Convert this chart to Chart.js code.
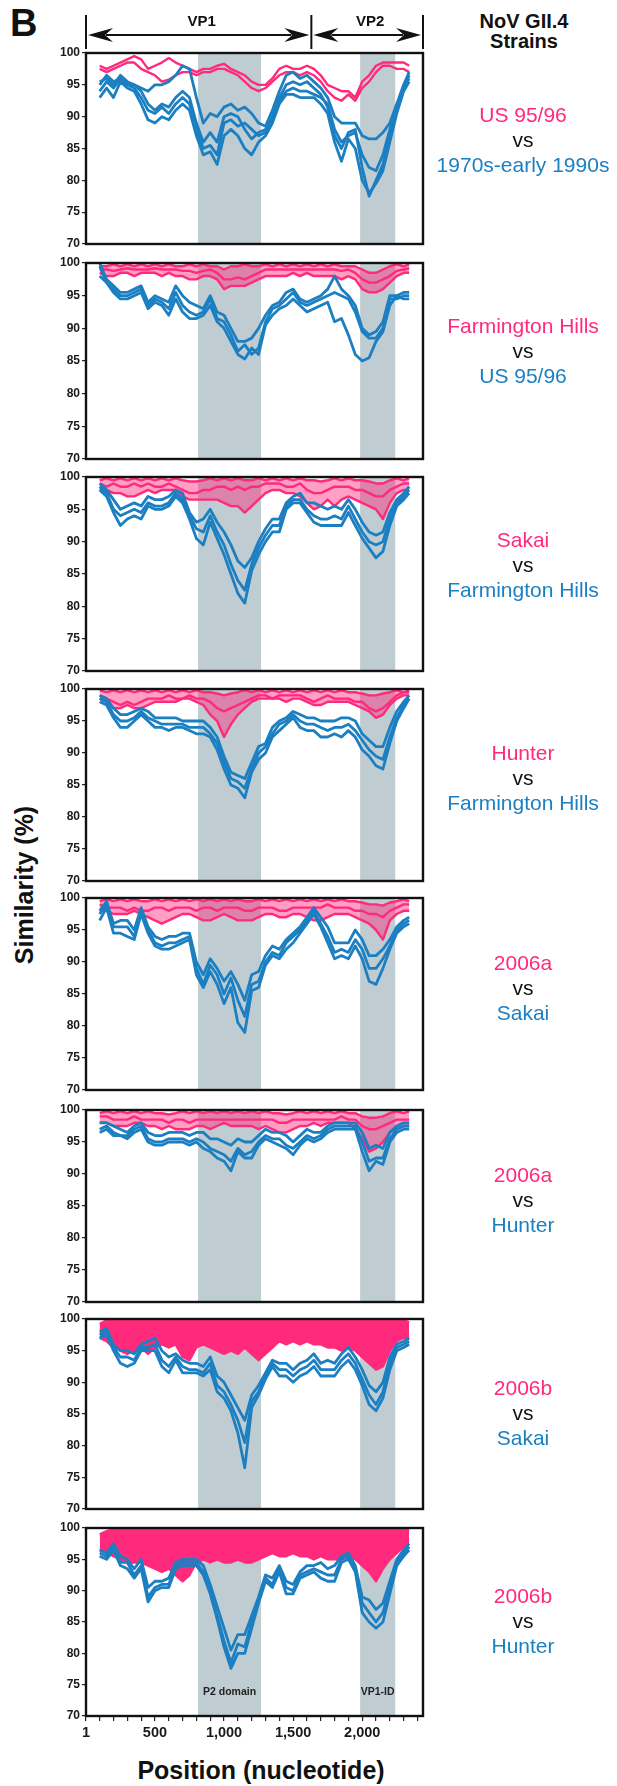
<!DOCTYPE html>
<html><head><meta charset="utf-8">
<script src="https://cdn.jsdelivr.net/npm/chart.js@4.4.1/dist/chart.umd.min.js"></script>
<style>
body{margin:0;background:#fff;width:617px;height:1786px;position:relative;overflow:hidden;font-family:"Liberation Sans",Arial,sans-serif;color:#111;}
canvas{position:absolute;left:0;}
.lab{position:absolute;left:423px;width:200px;text-align:center;font-size:21px;line-height:25px;white-space:nowrap;}
.pk{color:#ff2a7c;} .bl{color:#1b7fc2;} .vs{color:#111;}
</style></head>
<body>
<div style="position:absolute;left:10px;top:3px;font-weight:bold;font-size:38px;line-height:40px;">B</div>
<div style="position:absolute;left:444px;width:160px;top:11px;text-align:center;font-weight:bold;font-size:20px;line-height:20px;">NoV GII.4<br>Strains</div>
<div style="position:absolute;left:24px;top:885px;transform:translate(-50%,-50%) rotate(-90deg);font-weight:bold;font-size:25px;white-space:nowrap;">Similarity (%)</div>
<div style="position:absolute;left:111px;width:300px;top:1755px;text-align:center;font-weight:bold;font-size:25px;line-height:30px;white-space:nowrap;">Position (nucleotide)</div>
<script>
// ---------- data ----------
const positions = [100,150,200,250,300,350,400,450,500,550,600,650,700,750,800,850,900,950,1000,1050,1100,1150,1200,1250,1300,1350,1400,1450,1500,1550,1600,1650,1700,1750,1800,1850,1900,1950,2000,2050,2100,2150,2200,2250,2300,2340];
const yTicks = [70,75,80,85,90,95,100];
const xTicks = [1,100,200,300,400,500,600,700,800,900,1000,1100,1200,1300,1400,1500,1600,1700,1800,1900,2000,2100,2200,2300,2400];
const xLabelled = [1,500,1000,1500,2000];
const shadeP2 = [812,1268];
const shadeID = [1985,2239];
const shadeNames = ['P2 domain','VP1-ID'];
const vpBounds = [1,1632,2440];
const vpLabels = ['VP1','VP2'];
const pinkNames = ['US 95/96','Farmington Hills','Sakai','Hunter','2006a','2006a','2006b','2006b'];
const blueNames = ['1970s-early 1990s','US 95/96','Farmington Hills','Farmington Hills','Sakai','Hunter','Sakai','Hunter'];

const p1PinkA = [98,97.5,98,98.5,99,99.5,99,97.5,98,98.5,99.2,98.5,98,97.5,97,97.5,97.5,98,98.3,97.5,97,96.5,95.5,95,95,96,97.5,98,97.5,97.5,98,97.5,96.5,95,94.5,94,94,93,95.5,96.5,98,98.5,98.5,98.5,98.5,98];
const p1PinkB = [97.5,97,97.5,98,98.5,98.5,97.5,97,96.5,95.5,95.8,96.5,97,97,96.5,97,97,97.5,97.5,97,96.5,95.5,94.5,94,94.5,95.5,96.5,97,97,96.5,97,96.5,95.5,94,93,92.5,93.5,92.5,94.5,95.5,97,98,98,97.5,97.5,97];
const p1BlueA = [95.5,96,95,96.5,95.5,95,94.5,94,95,95,95.5,96.5,98,97.5,93,89,90.5,90,91.5,92,91,91.5,90.5,89,88.5,91,94,96.5,97,96,96.5,95.5,94.5,93,90,89,89,89,87,86.5,86.5,87.5,89,92,95,97];
const p1BlueB = [94,95.5,94.5,96,95,94.5,93,91,90.5,91.5,90.5,92,93,92,88,85,85.5,84,89,89.5,88.5,89,88,87,87.5,89.5,92.5,94,94.5,94,94,93.5,93,92,88,86,87,87.5,84,82,81.5,84,88,91.5,94.5,96];
const p1BlueC = [93,94.5,93,95.5,94.5,94,92,89.5,89,90,89.5,91,92,91,87,84,84.5,82.5,87,88,87,85,84,86,87,89,92,93.5,93.5,93,93,93,92,90.5,86,83,86.5,85,80,78,79.5,81.5,86,90.5,94,95.5];
const p1BlueD = [95,96.5,95.5,96,95,95,94,92,91,92,91.5,93,94,93,89,86,87.5,86,90,90.5,90,88,86.5,87.5,88,90,93,95,95.5,95,95.5,94.5,93.5,91.5,87,85,87.5,88,82,77.5,80,82.5,87,91,94.5,96.5];

const p2PinkA = [99.5,99.5,99.8,99.5,99.8,99.5,99.8,99.5,99.8,99.5,99.8,99.5,99.5,99.8,99.5,99.8,99.5,99.5,99,99.5,99.5,99.8,99.5,99.5,99.8,99.5,99.8,99.5,99.8,99.5,99.8,99.5,99.8,99.5,99.8,99.5,99.5,99.5,99,98.5,98.5,99,99.5,99.8,99.5,99.8];
const p2PinkB = [98.5,98,98,98.5,98.5,98,98.5,98.5,98.5,98,98.5,98,98,97.5,97.5,98,98,97.5,96,96.5,96.5,96.5,97,97.5,98,98,98,98,98.5,98,98.5,98,98,98,98,97.5,98,97.5,96,95.5,95.5,96,97,98,98.5,98.5];
const p2PinkC = [99,99,98.8,99,99.2,99,99,99,99.2,99,99,99,98.8,98.8,98.5,98.8,99,98.5,97.5,97.5,97.8,97.5,98,98.5,99,99,99,99,99,99,99,99,99,99,99,98.8,99,98.5,97.5,97,97,97.5,98,98.8,99,99.2];
const p2BlueA = [100,97.5,96.5,95.5,95.5,96,96.5,94,95,94.5,94,96.5,95,94,93.5,93,95,92.5,92,90,88,88,88.5,90,92,93.5,94,95.5,96,94.5,94,94.5,95,96,98,96,95,93.5,90,89,89.5,91,95,95,95.5,95.5];
const p2BlueB = [99.5,97,96,95,95,95.5,96,93.5,94.5,94,93,95.5,93.5,92.5,92,92.5,94.5,91.5,91,89,86.5,87.5,86,87,91,93,93.5,94.5,95.5,94,93.5,94,94.5,95,95.5,95,94.5,92.5,89.5,88.5,88.5,90,94.5,94.5,95,95];
const p2BlueC = [98,97,95.5,94.5,94.5,95,95.5,93,94,93.5,92,94.5,92.5,91.5,91.5,92,93.5,91,90,88,86,85.3,87,86,90.5,92,93,93.5,94.5,93.5,92.5,93,93.5,94,91,91.5,89,86,85,85.5,88,89.5,93.5,95,94.5,94.5];

const p3PinkA = [99.5,99.8,99.5,99.8,99.5,99.8,99.5,99.8,99.5,99.8,99.5,99.8,99.5,99.3,99.3,99.5,99.8,99.5,99.8,99.5,99.8,99.5,99.5,99.8,99.5,99.8,99.5,99.8,99.5,99.8,99.5,99.5,99.3,99.5,99.8,99.5,99.8,99.5,99.5,99.3,99,99,99.5,99.8,99.5,99.8];
const p3PinkB = [99,98.5,99,98.5,98.5,99,98.5,99,98.5,98.5,99,98.5,98,97.5,97.5,98,98,98.5,98.5,98,98.5,98,98.5,98.5,99,99,99,98.5,98.5,99,98,97.5,97.5,98,98.5,98.5,98.5,98,98,97.5,97,97,98,98.5,99,99];
const p3PinkC = [98,98,97.5,97.5,97,97,97.5,98,97.5,98,98,98,97,96.5,96.5,96.5,96.5,96.5,96,95.5,95.5,94.5,95.5,96.5,97.5,98,98,97.5,97.5,97,96,95,95.5,96.5,95.5,96.5,97,96.5,96,95.5,95,93.5,96,97.5,98,98];
const p3BlueA = [99,98,96.5,95,95.5,96,95.5,97,96.5,96.5,97,98,97.5,94.5,93,93.5,95,93,91.5,89.5,87,86,87.5,90,92,93.5,93.5,96,97,97.5,96,96,95.5,95,95.5,95,96.5,95,93,91.5,91,91.5,94.5,96.5,97.5,98.5];
const p3BlueB = [98.5,97.5,95,94,94.5,95,94.5,96,95.5,95.5,96,97.5,96.5,94,92,91.5,94,91.5,89.5,86.5,84,82.5,86.5,89,91,92.5,92.5,95.5,96.5,96.5,95,94,93.5,93.5,94,93.5,95.5,93.5,91.5,90,89.5,90,93.5,96,97,98];
const p3BlueC = [98,97,94.5,92.5,93.5,94,93.5,95.5,95,95,95.5,97,96,93.5,90.5,89.5,93,90.5,88,85,82,80.5,85.5,88,90,91.5,91.5,95,96,96,94.5,93,92.5,92.5,92.5,92.5,94.5,92.5,90.5,89,87.5,88.5,92.5,95.5,96.5,97.5];

const p4PinkA = [99.8,99.5,99.8,99.5,99.8,99.5,99.8,99.5,99.8,99.5,99.8,99.5,99.8,99.5,99.8,99.5,99.5,99.3,99,99.3,99.5,99.8,99.5,99.8,99.5,99.8,99.5,99.8,99.5,99.8,99.5,99.8,99.5,99.8,99.5,99.8,99.5,99.5,99.3,99,99,99.3,99.5,99.8,99.5,99.8];
const p4PinkB = [99,98.5,98,97.5,98,97.5,98,98.5,98.5,98.5,99,98.5,98.5,99,98.5,98.5,98,97,96.5,97,97.5,98,98.5,99,99,98.5,99,99,99,99,98.5,98,98.5,99,98.5,98.5,98.5,98,98,97,96.5,97,98,99,99.5,99.5];
const p4PinkC = [98.5,98,97,97,97.5,97,97,97.5,98,98,98,98,98.5,98.5,98,97.5,96,95,92.5,94.5,96,97,98,98.5,98.5,98.5,98.5,98,98.5,98.5,98,97.5,97.5,98,98,98,98,97.5,97,96.5,95.5,96,97.5,98.5,99,99];
const p4BlueA = [99,98.5,97,96,96,96.5,97,96.5,95.5,95.5,95.5,95.5,95,95,95,95,94,92.5,89.5,87,86.5,86,88.5,91,91.5,94,95,95.5,96.5,96,95.5,95.5,95,95,95,95.5,95.5,95,93,92,91,91,94,96.5,98,99];
const p4BlueB = [98.5,98,96,95,95,95.5,96.5,95.5,95,94.5,94.5,94.5,94.5,94,94,94,93,91.5,88.5,86,85.5,84.5,87.5,90,91,93,94.5,95,96,95,94.5,94.5,94,93.5,94,94,94.5,93.5,92,90.5,89.5,89,92.5,95.5,97.5,98.5];
const p4BlueC = [98,97.5,95.5,94,94,95,96,95,94,94,93.5,94,94,93.5,93,93,92.5,90.5,87.5,85,84.5,83,87,89,90,92.5,93.5,94.5,95.5,94,93.5,93.5,92.5,92.5,93,92.5,93.5,92.5,90.5,89.5,88,87.5,91.5,95,97,98.5];

const p5PinkA = [99.5,99.8,99.5,99.8,99.5,99.8,99.5,99.5,99.8,99.5,99.8,99.5,99.8,99.5,99.8,99.5,99.8,99.5,99.8,99.5,99.8,99.5,99.5,99.8,99.5,99.8,99.5,99.8,99.5,99.8,99.5,99.8,99.5,99.8,99.5,99.8,99.5,99.5,99.3,99,99,98.8,99.3,99.5,99.8,99.5];
const p5PinkB = [99,98.5,98.5,98.5,98,98.5,98,98,98.5,98.5,98,98.5,98.5,98.5,98,98.5,98.5,98,98.5,98.5,98.5,98,98,98.5,98.5,98.5,98,98,98.5,98.5,98.5,98.5,98.5,99,98.5,98.5,98.5,98,98,97.5,97.5,97,98,98.5,99,99];
const p5PinkC = [98,98,97.5,97.5,97.5,98,97.5,97,96.5,96,96.5,97,97.5,97.5,97,96.5,96.5,97,97.5,97,96.5,96.5,96.5,97,97.5,97.5,97,97,97.5,97.5,97,96.5,96.5,97,97.5,97.5,97.5,97,96.5,96,95,93.5,96.5,97.5,98,98];
const p5BlueA = [98,99.5,96,96.5,96.5,95,98.5,95.5,94,93.5,94,94,94.5,94.5,90,88,90.5,89,87,88.5,86.5,84,88,88.5,91,92.5,92,93.5,94.5,95.5,97,98.5,97,95.5,93,93,93,95,93.5,91,91,92,93.5,95.5,96.5,97];
const p5BlueB = [97.5,99,95.5,95.5,95.5,94,98,95,93,92.5,93,93,93.5,94,89,86.5,89.5,88,85,87.5,84,81.5,86.5,87,90,91.5,91,93,94,95,96.5,98,96,94,91.5,92,91.5,93.5,92,89,89,90.5,92.5,95,96,96.5];
const p5BlueC = [96.5,98.5,94.5,94.5,94,93.5,97.5,94.5,92.5,92,92,92.5,93,93.5,88,86,88.5,86.5,83.5,86,80.5,79,85.5,86,89.5,91,90.5,92,93,94.5,96,97.5,95.5,93,90.5,91,90.5,92.5,90.5,87,86.5,89,92,94.5,95.5,96];

const p6PinkA = [99.5,99.8,99.5,99.8,99.5,99.8,99.5,99.8,99.5,99.5,99.3,99.5,99.8,99.5,99.8,99.5,99.8,99.5,99.8,99.5,99.8,99.5,99.8,99.5,99.8,99.5,99.5,99.3,99.5,99.8,99.5,99.8,99.5,99.8,99.5,99.8,99.5,99.5,99,98.8,98.8,99,99.5,99.8,99.5,99.8];
const p6PinkB = [99,99,98.5,98.5,98.5,99,98.5,98.5,98.5,98.5,98,98.5,98.5,98,98.5,98.5,98.5,98.5,98.5,98.5,98.5,98.5,98.5,98.5,98.5,98.5,98,98,98.5,98.5,98.5,98.5,98.5,98.5,98.5,99,98.5,98.5,97.5,97,97,97.5,98,98.5,98.5,98.5];
const p6PinkC = [98,98,97.5,97.5,97.5,98,98,97.5,97.5,97,97.5,97,97,97,97.5,97.5,97,97.5,98,97.5,97.5,97.5,97.5,97,97.5,97,96.5,96.5,97,97.5,97.5,98,97.5,98,98,98,98,97,95.5,93.5,94,95,96.5,97,97.5,97.5];
const p6BlueA = [98,98,97.5,97,96.5,97.5,98,96.5,96,96,96.5,96.5,96.5,96,96.5,96.5,95.5,95.5,95,94.5,95.5,95,95,96,97,96.5,96.5,96,95,96,97,96.5,96.5,97.5,98,98,98,98,96.5,94,94.5,94,96.5,97.5,98,98];
const p6BlueB = [97,97.5,96.5,96,96,97,97.5,95.5,95,95,95.5,95.5,95.5,95,95.5,95,94,93.5,93,92,94,93,93.5,95,96,95.5,95.5,94.5,94,95,96,95.5,96,97,97.5,97.5,97.5,97.5,95,92,92.5,92.5,95.5,97,97.5,97.5];
const p6BlueC = [96.5,97,96,96,95.5,96.5,97,95,94.5,94.5,95,95,95,94.5,95,94,93.5,92.5,92,90.5,93.5,92.5,92.5,94.5,95.5,95,94.5,94,93,94.5,95.5,95,95.5,96.5,97,97,97,97,93.5,90.5,92,91.5,95,96.5,97,97];

const p7PinkTop = [99.2,99.8,99.8,99.8,99.8,99.8,99.8,99.8,99.8,99.8,99.8,99.8,99.8,99.8,99.8,99.8,99.8,99.8,99.8,99.8,99.8,99.8,99.8,99.8,99.8,99.8,99.8,99.8,99.8,99.8,99.8,99.8,99.8,99.8,99.8,99.8,99.8,99.8,99.8,99.8,99.8,99.8,99.8,99.8,99.8,99.5];
const p7PinkLow = [97,96.5,95.5,95,94.5,95,95.5,94.5,95.5,96,95.5,96,94,93.5,95.5,96,95.5,95,94.5,95,94.5,95.5,94.5,93.5,94.5,95.5,96.5,96,96.5,96,96.5,96,96,95.5,95.5,95,95.5,95,94,93,92,92.5,95,96.5,97,97];
const p7BlueA = [98,98.5,96,95,95,94.5,96,96.5,97,95,94,94.5,93.5,93,93,92.5,94,91,90,88,86,84,88,89.5,91.5,93.5,93,93,92,93,93.5,94.5,93,93.5,93,94.5,95.5,94,92,89.5,88.5,90,94,96,96.5,97];
const p7BlueB = [97.5,98,95.5,94,94,93.5,95.5,95.5,96,93.5,92.5,94,92.5,92,92,91.5,93,89.5,88.5,86.5,84,80.5,87,88.5,91,93,92,92,91,92,92.5,93.5,92,92,92,93.5,94.5,93,90.5,88,86.5,88.5,93,95.5,96,96.5];
const p7BlueC = [97,97.5,95,93,92.5,93,95,95,95,92.5,91.5,93.5,91.5,91.5,91.5,91,92,88.5,87.5,85.5,82,76.5,86,88,90.5,92.5,91,91,90,91,91.5,92.5,91,91,91,92.5,93.5,92,89.5,86.5,85.5,87.5,92,95,95.5,96];

const p8PinkTop = [99,99.5,99.8,99.8,99.8,99.8,99.8,99.8,99.8,99.8,99.8,99.8,99.8,99.8,99.8,99.8,99.8,99.8,99.8,99.8,99.8,99.8,99.8,99.8,99.8,99.8,99.8,99.8,99.8,99.8,99.8,99.8,99.8,99.8,99.8,99.8,99.8,99.8,99.8,99.8,99.8,99.8,99.8,99.8,99.8,99.8];
const p8PinkLow = [96.5,96,95.5,95,94.5,94.5,94.5,94,93.5,93,93.5,92.5,91.5,92.5,94.5,95,94.5,95,94.5,94.5,95,94.5,94.5,95,95.5,96,95.5,95.5,96,95.5,95.5,95,95.5,95,95,95,95.5,95,94,93,91.5,93.5,95,96,97,97.5];
const p8BlueA = [96.5,96,97.5,95.5,95,93.5,95,90.5,91.5,91.5,92,94.5,95,95,95,94,91,87.5,84,80.5,83,83,86,89,92.5,92,94,91.5,91,93,94,94,94.5,93.5,94,95.5,96,94,89,88.5,87,88,91.5,95,96.5,97.5];
const p8BlueB = [96,95.5,97,94.5,94.5,92.5,94,89,90.5,91,91,94,94.5,94.5,94.5,93,90,86,82,78.5,81.5,81,85,88.5,92,91,93.5,90.5,90,92.5,93,93.5,93,92.5,92.5,95,95.5,93.5,88,86.5,85,86.5,90.5,94.5,96,97];
const p8BlueC = [95.5,95,96.5,94,93.5,92,93.5,88.2,90,90.5,90.5,93.5,94,94,94,92.5,89.5,85.5,81,77.6,80,80,84,88,91.5,90.5,93,89.5,89.5,92,92.5,93,92,91.5,91.5,94.5,95,93,86.5,85,84,85,89.5,94,95.5,96.5];

// ---------- layout ----------
const PINK = '#ff2a7c', PINK_SOFT = 'rgba(255,42,124,0.45)', BLUE = '#1b7fc2', SHADE = '#bfcdd2';
const panelTops = [53,263,477,689,898,1110,1319,1528];
const panelBottoms = [244,459,671,881,1090,1302,1509,1716];
const vsCenters = [139,350,564,777,987,1199,1412,1620];

// band: 'none' = separate lines, 'soft' = translucent band between top & lowest pink line, 'solid' = dense band
const panels = [
  {pink:[p1PinkA,p1PinkB], blue:[p1BlueA,p1BlueB,p1BlueC,p1BlueD], band:'none'},
  {pink:[p2PinkA,p2PinkC,p2PinkB], blue:[p2BlueA,p2BlueB,p2BlueC], band:'soft'},
  {pink:[p3PinkA,p3PinkB,p3PinkC], blue:[p3BlueA,p3BlueB,p3BlueC], band:'soft'},
  {pink:[p4PinkA,p4PinkB,p4PinkC], blue:[p4BlueA,p4BlueB,p4BlueC], band:'soft'},
  {pink:[p5PinkA,p5PinkB,p5PinkC], blue:[p5BlueA,p5BlueB,p5BlueC], band:'soft'},
  {pink:[p6PinkA,p6PinkB,p6PinkC], blue:[p6BlueA,p6BlueB,p6BlueC], band:'soft'},
  {pink:[p7PinkTop,p7PinkLow], blue:[p7BlueA,p7BlueB,p7BlueC], band:'solid'},
  {pink:[p8PinkTop,p8PinkLow], blue:[p8BlueA,p8BlueB,p8BlueC], band:'solid'}
];

Chart.defaults.font.family = '"Liberation Sans", Arial, sans-serif';
Chart.defaults.color = '#1a1a1a';

function series(arr, color, w, extra){
  return Object.assign({data: arr.map((v,i)=>({x:positions[i], y:v})), borderColor: color, borderWidth: w,
    pointRadius: 0, tension: 0, fill: false, borderJoinStyle: 'round'}, extra || {});
}

const shadePlugin = {id:'shade', beforeDatasetsDraw(chart){
  const {ctx, chartArea:a, scales:{x}} = chart;
  ctx.save(); ctx.fillStyle = SHADE;
  [shadeP2, shadeID].forEach(([s,e])=>{
    const x0 = x.getPixelForValue(s), x1 = x.getPixelForValue(e);
    ctx.fillRect(x0, a.top, x1-x0, a.bottom-a.top);
  });
  ctx.restore();
}};
const framePlugin = {id:'frame', afterDatasetsDraw(chart){
  const {ctx, chartArea:a} = chart;
  ctx.save(); ctx.strokeStyle = '#111'; ctx.lineWidth = 2.4;
  ctx.strokeRect(a.left, a.top, a.right-a.left, a.bottom-a.top);
  ctx.restore();
}};
function arrowHead(ctx, tip, y, dir){
  ctx.beginPath(); ctx.moveTo(tip, y); ctx.lineTo(tip+dir*25, y-7); ctx.lineTo(tip+dir*17, y);
  ctx.lineTo(tip+dir*25, y+7); ctx.closePath(); ctx.fill();
}
const vpPlugin = {id:'vp', afterDraw(chart){
  const {ctx, scales:{x}} = chart;
  const xs = vpBounds.map(v=>x.getPixelForValue(v));
  ctx.save(); ctx.strokeStyle = '#111'; ctx.fillStyle = '#111'; ctx.lineWidth = 2;
  xs.forEach(px=>{ctx.beginPath(); ctx.moveTo(px,15); ctx.lineTo(px,49); ctx.stroke();});
  ctx.font = 'bold 15px "Liberation Sans", Arial, sans-serif'; ctx.textAlign = 'center'; ctx.textBaseline = 'middle';
  for (let i=0;i<xs.length-1;i++){
    const a = xs[i]+2, b = xs[i+1]-2, y = 35;
    ctx.beginPath(); ctx.moveTo(a+18,y); ctx.lineTo(b-18,y); ctx.stroke();
    arrowHead(ctx, a, y, 1); arrowHead(ctx, b, y, -1);
    ctx.fillText(vpLabels[i], (xs[i]+xs[i+1])/2 + 3, 22);
  }
  ctx.restore();
}};
const regionLabelPlugin = {id:'regionLabel', afterDatasetsDraw(chart){
  const {ctx, chartArea:a, scales:{x}} = chart;
  ctx.save(); ctx.fillStyle = '#222'; ctx.font = 'bold 10.5px "Liberation Sans", Arial, sans-serif';
  ctx.textAlign = 'center'; ctx.textBaseline = 'middle';
  [shadeP2, shadeID].forEach(([s,e],i)=>{
    ctx.fillText(shadeNames[i], (x.getPixelForValue(s)+x.getPixelForValue(e))/2, a.bottom-24);
  });
  ctx.restore();
}};

panels.forEach((p, i)=>{
  const last = i === panels.length-1, first = i === 0;
  const T = panelTops[i], B = panelBottoms[i];
  const canvasTop = first ? 0 : T-12;
  const padTop = first ? T : 12;
  const xAxisH = 70;
  const height = last ? (1786 - canvasTop) : (B - canvasTop + 12);
  const wrap = document.createElement('div');
  wrap.style.cssText = 'position:absolute;left:0;top:' + canvasTop + 'px;width:440px;height:' + height + 'px;';
  const cv = document.createElement('canvas');
  cv.width = 440; cv.height = height;
  cv.style.cssText = 'position:absolute;left:0;top:0;width:440px;height:' + height + 'px;';
  wrap.appendChild(cv);
  document.body.appendChild(wrap);

  const datasets = [];
  p.blue.forEach(arr=>datasets.push(series(arr, BLUE, 2.8)));
  const nBlue = datasets.length;
  const nPink = p.pink.length;
  p.pink.forEach((arr, k)=>{
    const lowest = k === nPink-1;
    let extra = {};
    if (lowest && p.band === 'solid') extra = {fill:{target:nBlue}, backgroundColor: PINK};
    if (lowest && p.band === 'soft') extra = {fill:{target:nBlue}, backgroundColor: PINK_SOFT};
    datasets.push(series(arr, PINK, 2.4, extra));
  });

  const plugins = [shadePlugin, framePlugin];
  if (first) plugins.push(vpPlugin);
  if (last) plugins.push(regionLabelPlugin);

  new Chart(cv, {
    type: 'line',
    data: {datasets},
    options: {
      responsive: false, maintainAspectRatio: false, animation: false, devicePixelRatio: 1,
      layout: {padding: {top: padTop, bottom: last ? 0 : 12, left: 0, right: 17}},
      plugins: {legend: {display:false}, tooltip: {enabled:false}},
      scales: {
        x: {
          type: 'linear', min: 1, max: 2440, display: last,
          afterBuildTicks(s){ s.ticks = xTicks.map(v=>({value:v})); },
          afterFit(s){ s.height = last ? xAxisH : 0; },
          ticks: {autoSkip:false, maxRotation:0, padding:3, color:'#1a1a1a',
            font:{size:14.5, weight:'bold'},
            callback(v){ return xLabelled.includes(v) ? String(v).replace(/\B(?=(\d{3})+(?!\d))/g, ',') : ''; }},
          grid: {drawOnChartArea:false, tickLength:5, color:'#222', lineWidth:1.2},
          border: {display:false}
        },
        y: {
          min: 70, max: 100,
          afterBuildTicks(s){ s.ticks = yTicks.map(v=>({value:v})); },
          afterFit(s){ s.width = 86; },
          ticks: {padding:2, color:'#1a1a1a', font:{size:12, weight:'bold'}},
          grid: {drawOnChartArea:false, tickLength:4, color:'#222', lineWidth:1.2},
          border: {display:false}
        }
      }
    },
    plugins
  });

  const lab = document.createElement('div');
  lab.className = 'lab';
  lab.style.top = (vsCenters[i] - 37.5) + 'px';
  lab.innerHTML = '<div class="pk"></div><div class="vs">vs</div><div class="bl"></div>';
  lab.children[0].textContent = pinkNames[i];
  lab.children[2].textContent = blueNames[i];
  document.body.appendChild(lab);
});
</script>
</body></html>
